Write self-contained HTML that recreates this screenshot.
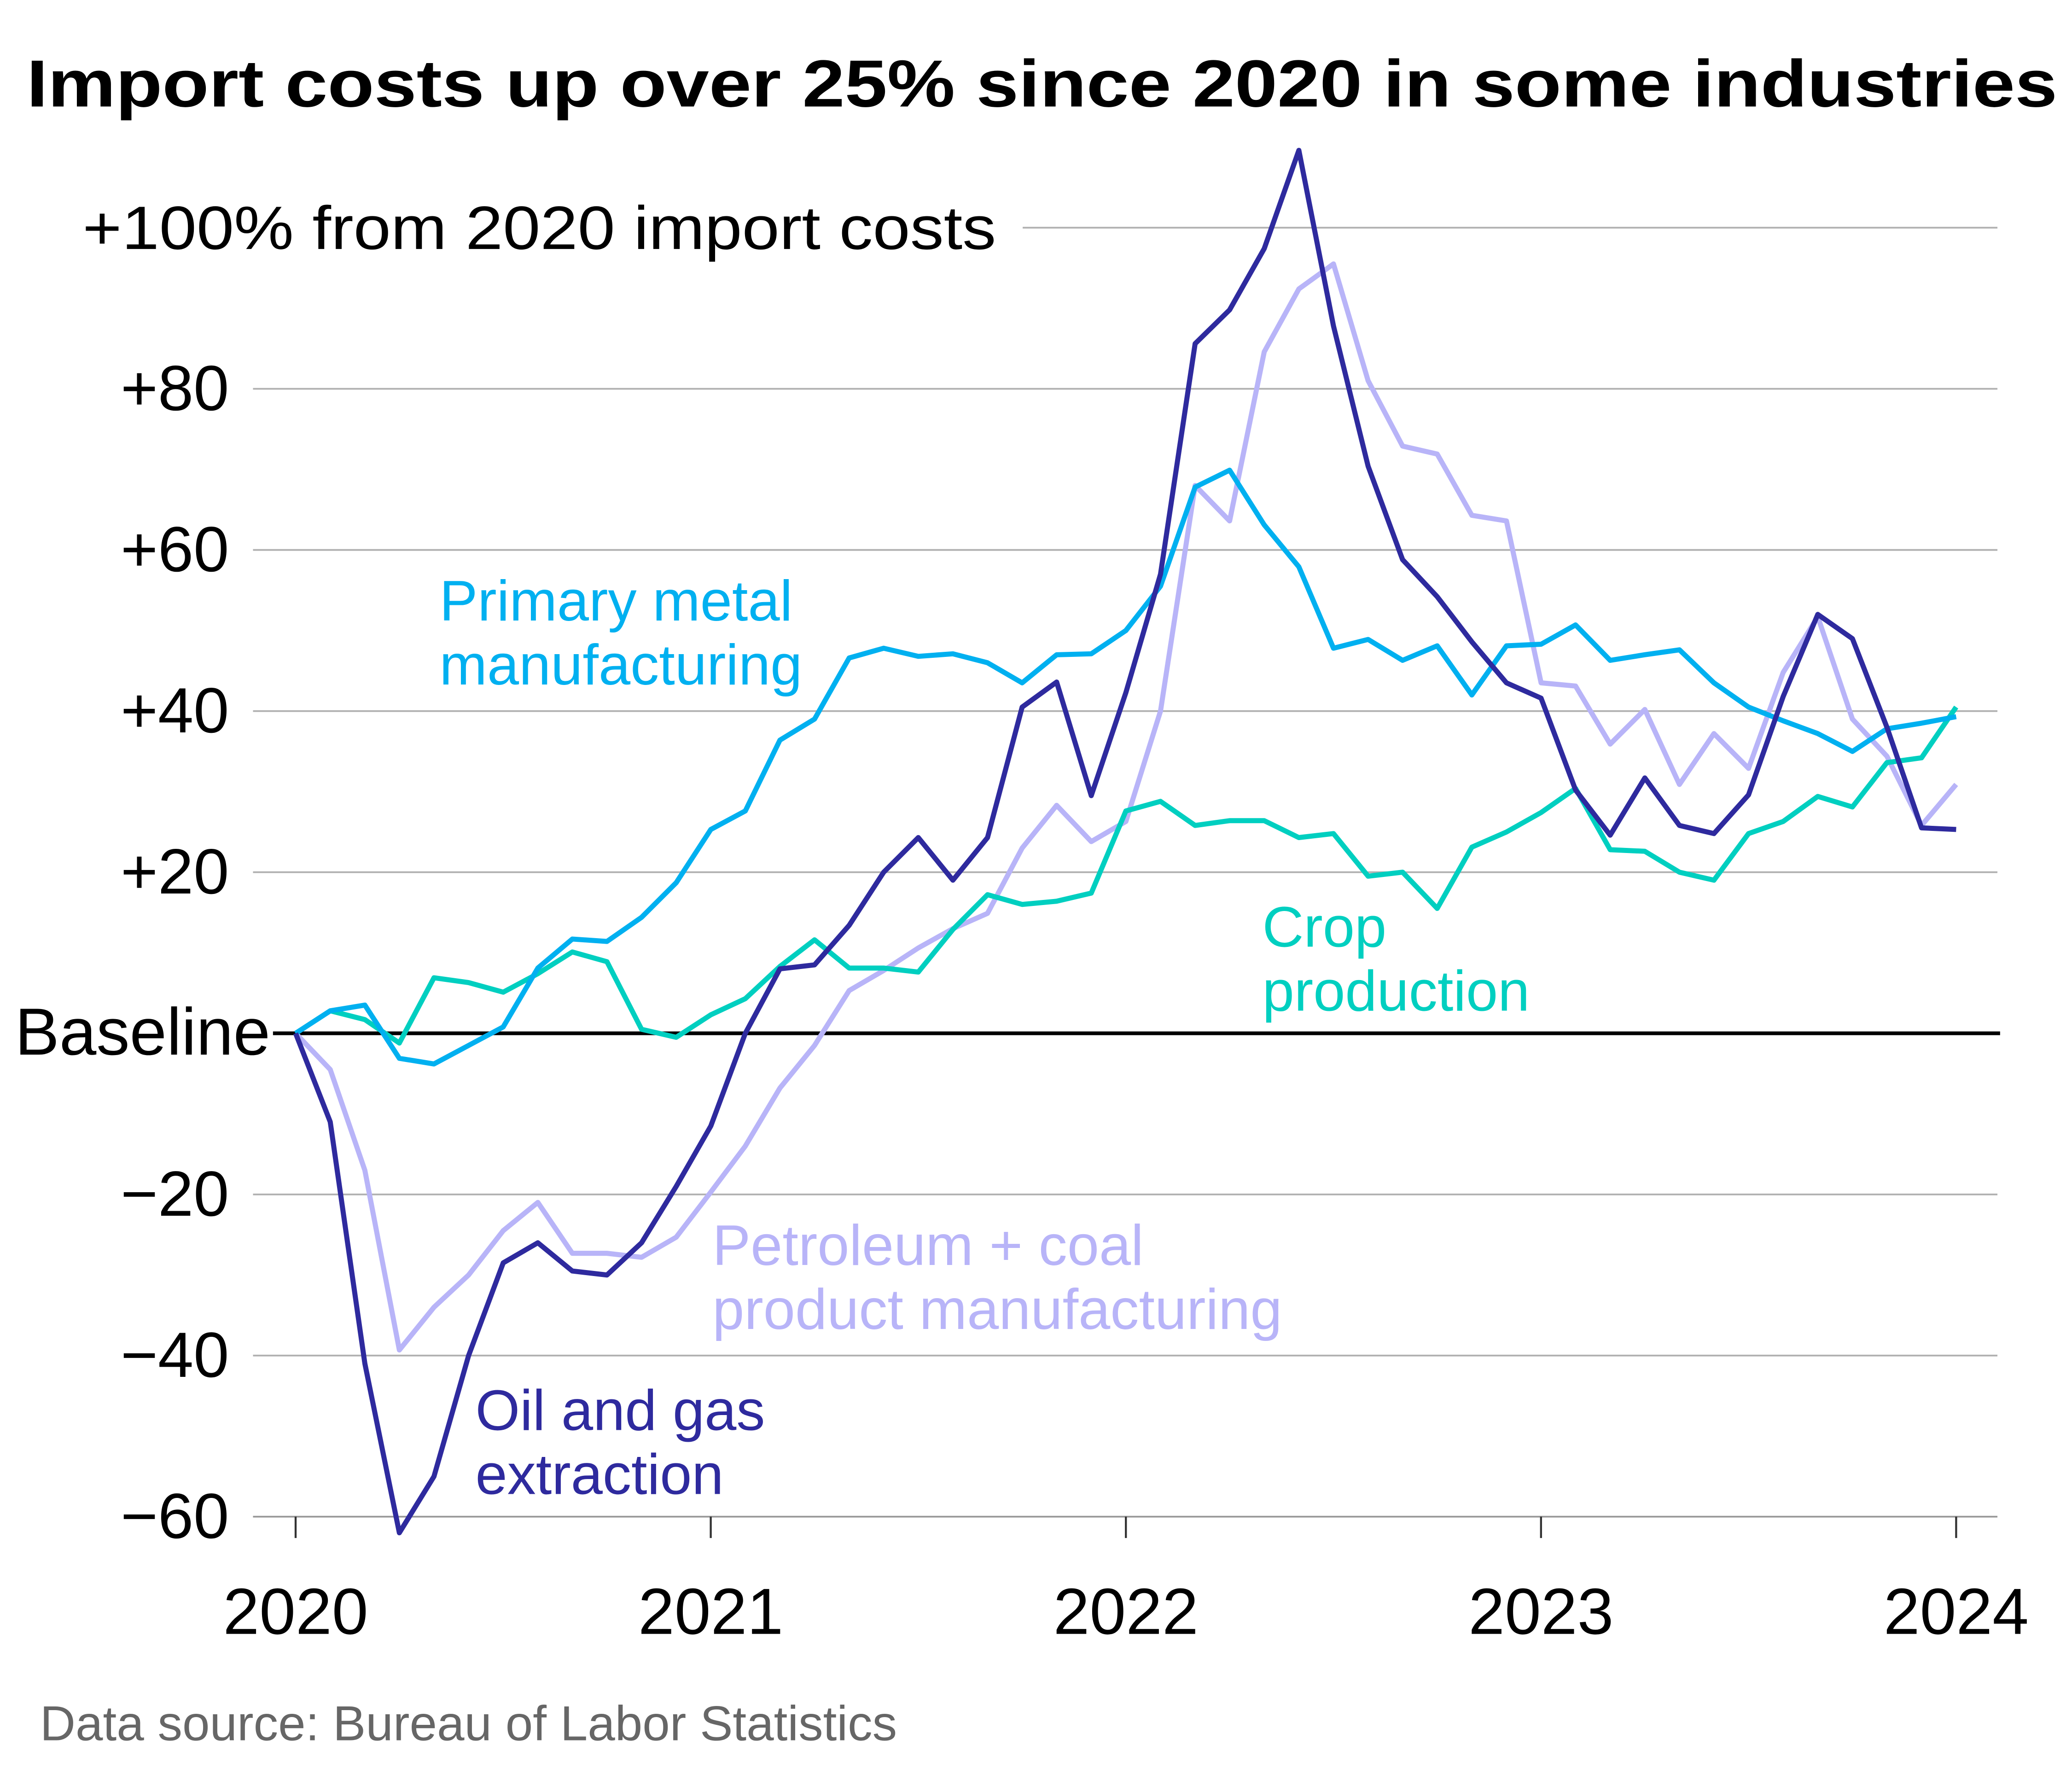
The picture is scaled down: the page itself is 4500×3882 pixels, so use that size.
<!DOCTYPE html>
<html><head><meta charset="utf-8"><style>
html,body{margin:0;padding:0;background:#fff;}
svg{display:block;font-family:"Liberation Sans",Arial,sans-serif;}
</style></head><body>
<svg id="chart" width="4500" height="3882" viewBox="0 0 1556 1342" preserveAspectRatio="none" xmlns="http://www.w3.org/2000/svg">
<text x="20" y="80" font-size="50" font-weight="bold" fill="#000" textLength="1525" lengthAdjust="spacingAndGlyphs">Import costs up over 25% since 2020 in some industries</text>
<g id="grid"></g>
<g id="yticks"></g>
<g id="xaxis"></g>
<g id="series"></g>
<text x="330" y="466" font-size="43" fill="#00b0f0">Primary metal</text>
<text x="330" y="514" font-size="43" fill="#00b0f0">manufacturing</text>
<text x="948" y="711" font-size="43" fill="#00cfc0">Crop</text>
<text x="948" y="759" font-size="43" fill="#00cfc0">production</text>
<text x="535" y="950" font-size="43" fill="#b8b4f8">Petroleum + coal</text>
<text x="535" y="998" font-size="43" fill="#b8b4f8">product manufacturing</text>
<text x="357" y="1074" font-size="43" fill="#2e2a9e">Oil and gas</text>
<text x="357" y="1122" font-size="43" fill="#2e2a9e">extraction</text>
<text x="30" y="1307" font-size="37" fill="#666">Data source: Bureau of Labor Statistics</text>
</svg>
<script>
const yTicks=[100,80,60,40,20,0,-20,-40,-60];
const yTickLabels=["+100% from 2020 import costs","+80","+60","+40","+20","Baseline","\u221220","\u221240","\u221260"];
const xYears=[2020,2021,2022,2023,2024];
const oilGas=[0,-11,-41,-62,-55,-40,-28.5,-26,-29.5,-30,-26,-19,-11.5,0,8,8.5,13.4,20,24.3,19,24.3,40.5,43.6,29.5,42.3,57,85.6,89.8,97.4,109.6,87.8,70.4,58.8,54.2,48.6,43.5,41.6,30.2,24.6,31.7,25.8,24.8,29.6,41.8,52,49,38,25.5,25.3];
const petroleum=[0,-4.5,-17,-39.3,-34,-30,-24.5,-21,-27.3,-27.3,-27.8,-25.3,-19.7,-14,-6.8,-1.5,5.3,7.8,10.6,13,14.9,23,28.3,23.8,26.3,40,68,63.6,84.6,92.4,95.5,81,72.9,71.9,64.3,63.6,43.5,43.1,35.9,40.2,30.9,37.2,32.9,44.8,51.7,39,34.4,25.8,30.9];
const primaryMetal=[0,2.8,3.5,-3.1,-3.8,-1.5,0.8,8.1,11.7,11.4,14.4,18.7,25.3,27.6,36.4,39,46.6,47.8,46.8,47.1,46,43.5,47,47.1,50,55.5,67.8,69.9,63.1,57.9,47.8,48.9,46.3,48.1,42,48.1,48.3,50.7,46.3,47,47.6,43.5,40.5,38.8,37.2,35,37.8,38.5,39.3];
const crop=[0,2.8,1.7,-1.2,6.9,6.3,5.1,7.4,10.1,8.9,0.5,-0.5,2.3,4.3,8.3,11.6,8.1,8.1,7.6,12.9,17.2,16,16.4,17.4,27.6,28.8,25.8,26.4,26.4,24.3,24.8,19.5,20,15.5,23.1,25,27.4,30.4,22.8,22.6,20,19,24.8,26.3,29.4,28.1,33.6,34.2,40.5];

const NS="http://www.w3.org/2000/svg";
const x0=222,x1=1469,y0=776,pxPer=121/20;
const xScale=m=>x0+(x1-x0)*m/48;
const yScale=v=>y0-v*pxPer;
function mk(tag,attrs,parent){const e=document.createElementNS(NS,tag);for(const k in attrs)e.setAttribute(k,attrs[k]);parent.appendChild(e);return e;}
const grid=document.getElementById('grid'),yt=document.getElementById('yticks'),xa=document.getElementById('xaxis'),ser=document.getElementById('series');
yTicks.forEach((v,i)=>{
  const y=yScale(v);
  if(v!==0&&v!==-60){
    const l=mk('line',{x1:v===100?768:190,x2:1500,y1:y,y2:y,stroke:'#b0b0b0','stroke-width':1.3},grid);
    
    
  }
  let attrs={x:v===100?748:(v===0?203:172),y:y+16,'font-size':v===0?50:48,'text-anchor':'end',fill:'#000'};
  if(v===100){attrs={x:62,y:y+16,'font-size':46,'text-anchor':'start',fill:'#000',textLength:686,lengthAdjust:'spacingAndGlyphs'};}
  const t=mk('text',attrs,yt);
  t.textContent=yTickLabels[i];
  
  
});
const axl=mk('line',{x1:190,x2:1500,y1:yScale(-60),y2:yScale(-60),stroke:'#999','stroke-width':1.3},xa);


xYears.forEach((yr,i)=>{
  const x=xScale(i*12);
  const tk=mk('line',{x1:x,x2:x,y1:yScale(-60),y2:yScale(-60)+16,stroke:'#333','stroke-width':1.5},xa);
  
  
  const t=mk('text',{x:x,y:1227,'font-size':49,'text-anchor':'middle',fill:'#000'},xa);
  t.textContent=yr;
  
  
});
const bl=mk('line',{x1:205,x2:1502,y1:y0,y2:y0,stroke:'#000','stroke-width':2.8},grid);


function drawLine(arr,color,name){
  const d=arr.map((v,i)=>(i?'L':'M')+xScale(i).toFixed(1)+','+yScale(v).toFixed(1)).join('');
  const p=mk('path',{d:d,fill:'none',stroke:color,'stroke-width':3.8,'stroke-linejoin':'round'},ser);
  
  
}
drawLine(petroleum,'#b8b4f8','line-petroleum');
drawLine(crop,'#00cfc0','line-crop');
drawLine(primaryMetal,'#00b0f0','line-primary-metal');
drawLine(oilGas,'#2e2a9e','line-oil-gas');
</script>
</body></html>
